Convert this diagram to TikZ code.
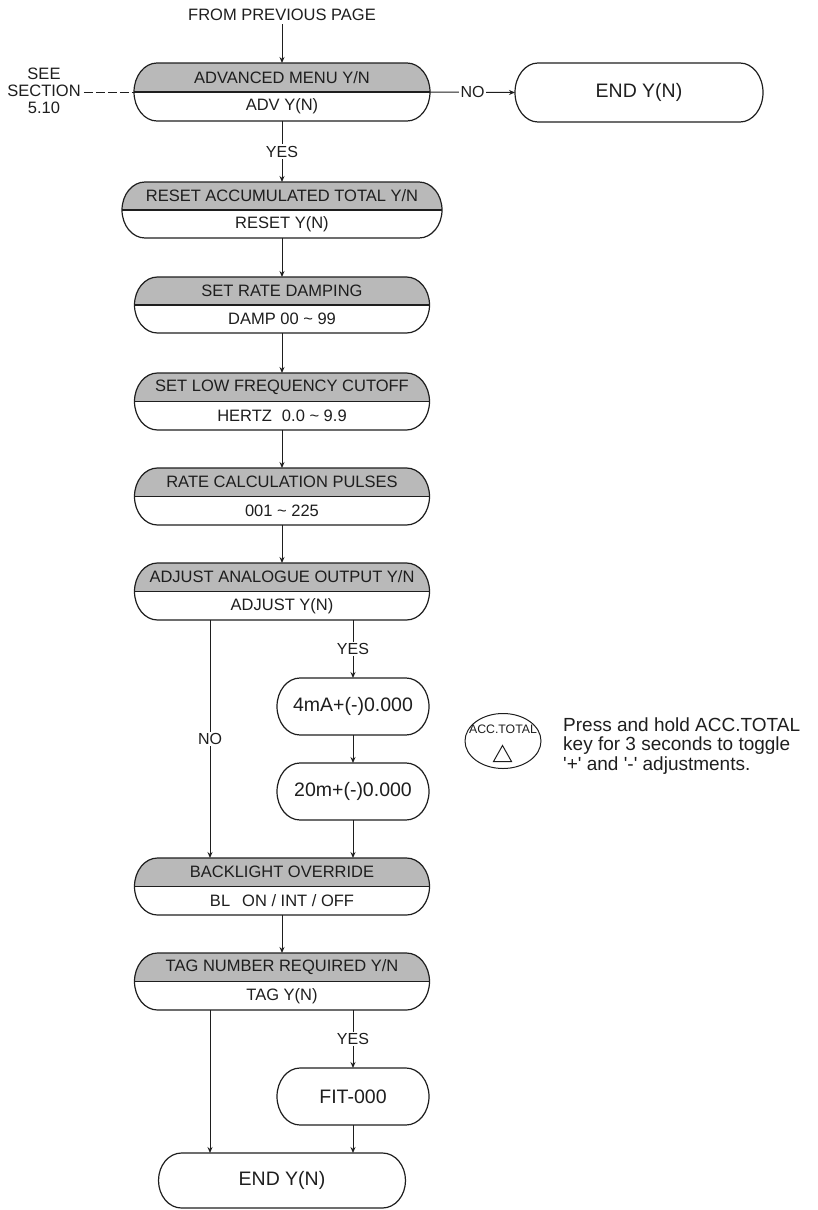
\documentclass[tikz,border=0pt]{standalone}
\usepackage{fontspec}
\setmainfont{Liberation Sans}
\usetikzlibrary{arrows.meta,shapes.geometric}
\definecolor{hdr}{RGB}{185,185,185}
\definecolor{ink}{RGB}{30,30,30}
\newcommand\drawstad[2]{%
  \draw[boxline] ([xshift=23pt]#1.north west) -- ([xshift=-23pt]#1.north east)
    arc[start angle=90,end angle=-90,x radius=23pt,y radius=#2]
    -- ([xshift=23pt]#1.south west)
    arc[start angle=270,end angle=90,x radius=23pt,y radius=#2] -- cycle;}
\newcommand\drawhdr[2]{%
  \fill[hdr] (#1.west) arc[start angle=180,end angle=90,x radius=23pt,y radius=#2]
    -- ([xshift=-23pt]#1.north east)
    arc[start angle=90,end angle=0,x radius=23pt,y radius=#2] -- cycle;
  \draw[boxline] (#1.west) -- (#1.east);}
\tikzset{
  boxline/.style={line width=1.2pt,draw=ink},
  shell/.style={rectangle,inner sep=0pt,outer sep=0pt},
  lbl/.style={inner sep=0pt,text=ink,font=\fontsize{16.5}{18}\selectfont},
  big/.style={inner sep=0pt,text=ink,font=\fontsize{19.5}{21}\selectfont},
  online/.style={fill=white,inner sep=1.5pt,text=ink,font=\fontsize{16}{18}\selectfont},
  arr/.style={line width=1pt,draw=ink,-{Stealth[length=6pt,width=5pt]}},
}
\begin{document}
\begin{tikzpicture}[x=1pt,y=-1pt]
\useasboundingbox (0,0) rectangle (818,1210);

% main split boxes
\node[shell,minimum width=296pt,minimum height=58pt] (adv) at (282,92) {};
\node[shell,minimum width=320pt,minimum height=56pt] (reset) at (282,210) {};
\node[shell,minimum width=295pt,minimum height=56pt] (damp) at (282,305) {};
\node[shell,minimum width=295pt,minimum height=57pt] (low) at (282,401.5) {};
\node[shell,minimum width=295pt,minimum height=57pt] (rate) at (282,496.5) {};
\node[shell,minimum width=295pt,minimum height=57pt] (adj) at (282,591.5) {};
\node[shell,minimum width=295pt,minimum height=57pt] (bl) at (282,886.5) {};
\node[shell,minimum width=295pt,minimum height=57pt] (tag) at (282,981.5) {};

\drawhdr{adv}{29pt}\drawstad{adv}{29pt}
\drawhdr{reset}{28pt}\drawstad{reset}{28pt}
\drawhdr{damp}{28pt}\drawstad{damp}{28pt}
\drawhdr{low}{28.5pt}\drawstad{low}{28.5pt}
\drawhdr{rate}{28.5pt}\drawstad{rate}{28.5pt}
\drawhdr{adj}{28.5pt}\drawstad{adj}{28.5pt}
\drawhdr{bl}{28.5pt}\drawstad{bl}{28.5pt}
\drawhdr{tag}{28.5pt}\drawstad{tag}{28.5pt}

% single boxes
\node[shell,minimum width=248pt,minimum height=59pt] (endR) at (639,92.5) {};
\node[shell,minimum width=152pt,minimum height=57pt] (ma4) at (353,706.5) {};
\node[shell,minimum width=152pt,minimum height=57pt] (ma20) at (353,791.5) {};
\node[shell,minimum width=152pt,minimum height=57pt] (fit) at (353,1096.5) {};
\node[shell,minimum width=247pt,minimum height=55pt] (endB) at (282,1180.5) {};
\drawstad{endR}{29.5pt}
\drawstad{ma4}{28.5pt}
\drawstad{ma20}{28.5pt}
\drawstad{fit}{28.5pt}
\drawstad{endB}{27.5pt}

% texts in boxes
\node[lbl] (advT) at (282,77.5) {ADVANCED MENU Y/N};
\node[lbl] (advB) at (282,106.5) {ADV Y(N)};
\node[lbl] (resetT) at (282,196) {RESET ACCUMULATED TOTAL Y/N};
\node[lbl] (resetB) at (282,224) {RESET Y(N)};
\node[lbl] (dampT) at (282,291) {SET RATE DAMPING};
\node[lbl] (dampB) at (282,319) {DAMP 00 \textasciitilde\ 99};
\node[lbl] (lowT) at (282,387) {SET LOW FREQUENCY CUTOFF};
\node[lbl] (lowB) at (282,416) {HERTZ\hspace{10pt}0.0 \textasciitilde\ 9.9};
\node[lbl] (rateT) at (282,482) {RATE CALCULATION PULSES};
\node[lbl] (rateB) at (282,511) {001 \textasciitilde\ 225};
\node[lbl] (adjT) at (282,577) {ADJUST ANALOGUE OUTPUT Y/N};
\node[lbl] (adjB) at (282,606) {ADJUST Y(N)};
\node[lbl] (blT) at (282,872) {BACKLIGHT OVERRIDE};
\node[lbl] (blB) at (282,901) {BL\hspace{12pt}ON / INT / OFF};
\node[lbl] (tagT) at (282,967) {TAG NUMBER REQUIRED Y/N};
\node[lbl] (tagB) at (282,996) {TAG Y(N)};

\node[big] (endRt) at (639,92.5) {END Y(N)};
\node[big] (ma4t) at (353,706.5) {4mA+(-)0.000};
\node[big] (ma20t) at (353,791.5) {20m+(-)0.000};
\node[big] (fitt) at (353,1096.5) {FIT-000};
\node[big] (endBt) at (282,1180.5) {END Y(N)};

% free texts
\node[lbl] (from) at (282,15) {FROM PREVIOUS PAGE};
\node[lbl,align=center,font=\fontsize{16.5}{17}\selectfont] (see) at (44,91) {SEE\\SECTION\\5.10};

% ACC.TOTAL key
\node[ellipse,draw=ink,line width=1pt,minimum width=76pt,minimum height=55pt,inner sep=0pt] (key) at (503,741) {};
\node[inner sep=0pt,text=ink,font=\fontsize{12.3}{13}\selectfont] (keyt) at (503,729.5) {ACC.TOTAL};
\draw[ink,line width=1pt] (493.5,761.5) -- (511.5,761.5) -- (502.5,745.5) -- cycle;
\node[anchor=west,align=left,inner sep=0pt,text=ink,font=\fontsize{19}{19.2}\selectfont] (note) at (563,746)
  {Press and hold ACC.TOTAL\\key for 3 seconds to toggle\\\textquotesingle+\textquotesingle{} and \textquotesingle-\textquotesingle{} adjustments.};

% connectors
\coordinate (cl) at (210,0);
\coordinate (cr) at (353,0);
\draw[arr] ([yshift=-3pt]from.south) -- (adv.north);
\draw[ink,line width=1pt,dash pattern=on 9pt off 3pt] ([xshift=3pt]see.east |- adv.west) -- (adv.west);
\draw[arr] (adv.east) -- node[online] (no1) {NO} (endR.west);
\draw[arr] (adv.south) -- node[online] (yes1) {YES} (reset.north);
\draw[arr] (reset.south) -- (damp.north);
\draw[arr] (damp.south) -- (low.north);
\draw[arr] (low.south) -- (rate.north);
\draw[arr] (rate.south) -- (adj.north);
\draw[arr] (cl |- adj.south) -- node[online,pos=0.5] (no2) {NO} (cl |- bl.north);
\draw[arr] (cr |- adj.south) -- node[online] (yes2) {YES} (ma4.north);
\draw[arr] (ma4.south) -- (ma20.north);
\draw[arr] (ma20.south) -- (cr |- bl.north);
\draw[arr] (bl.south) -- (tag.north);
\draw[arr] (cl |- tag.south) -- (cl |- endB.north);
\draw[arr] (cr |- tag.south) -- node[online] (yes3) {YES} (fit.north);
\draw[arr] (fit.south) -- (cr |- endB.north);
\end{tikzpicture}
\end{document}
